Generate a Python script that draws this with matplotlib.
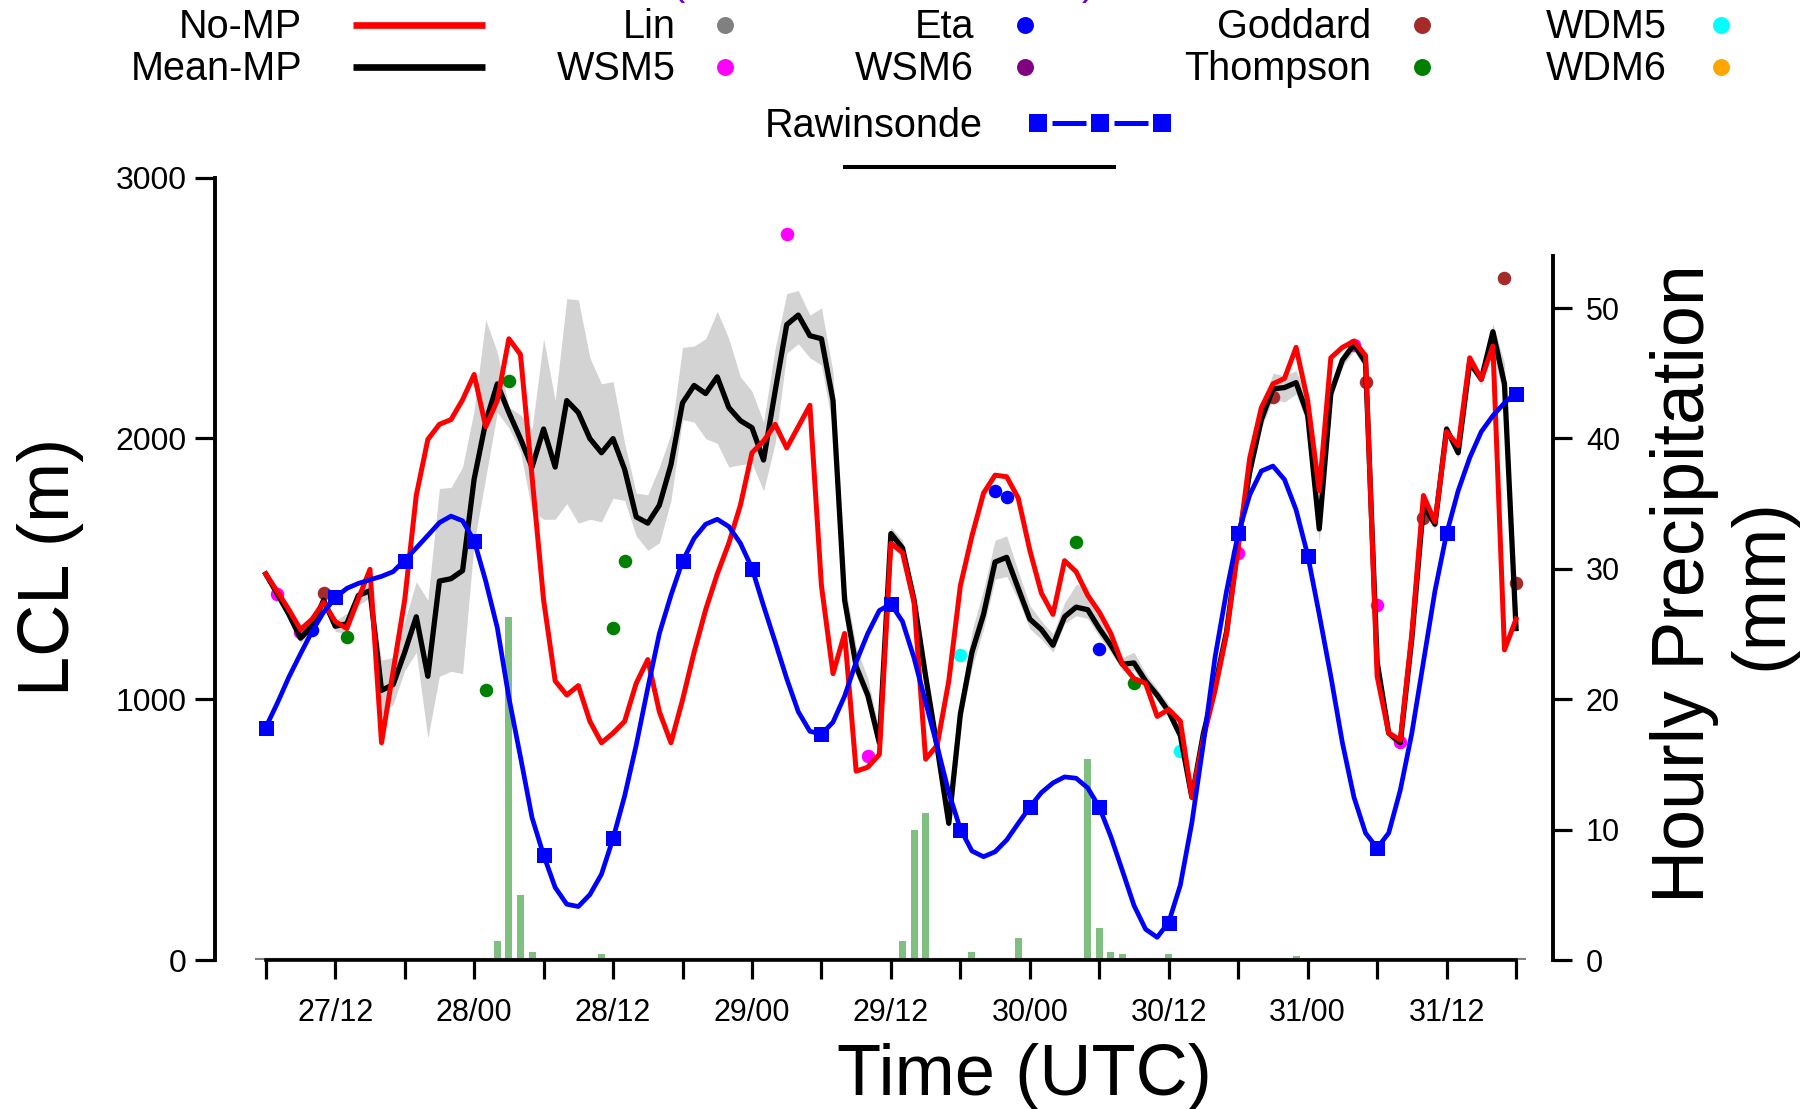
import numpy as np
import matplotlib
matplotlib.use('Agg')
import matplotlib.pyplot as plt
from matplotlib.lines import Line2D

plt.rcParams['font.family'] = ['Liberation Sans', 'DejaVu Sans']

# ---------------- data ----------------
# time axis: hours since 27 Dec 00 UTC (27/06 ... 31/18), hourly
hours = np.arange(6, 115)

no_mp = [1480, 1413, 1343, 1267, 1307, 1371, 1298, 1271, 1385, 1498,
         833, 1107, 1380, 1781, 1996, 2054, 2072, 2148, 2245, 2045,
         2145, 2382, 2322, 1853, 1380, 1070, 1016, 1052, 915, 833,
         870, 915, 1061, 1152, 952, 833, 997, 1180, 1343, 1480,
         1598, 1744, 1945, 1990, 2054, 1963, 2045, 2127, 1435, 1098,
         1252, 724, 739, 788, 1598, 1562, 1371, 770, 824, 1070,
         1435, 1626, 1790, 1859, 1853, 1771, 1571, 1407, 1325, 1531,
         1489, 1398, 1334, 1252, 1134, 1079, 1061, 934, 961, 916,
         624, 852, 1034, 1252, 1580, 1926, 2118, 2209, 2230, 2349,
         2145, 1799, 2309, 2349, 2373, 2318, 1088, 870, 843, 1252,
         1781, 1680, 2026, 1972, 2309, 2227, 2354, 1189, 1307]

mean_mp = [1480, 1404, 1325, 1234, 1280, 1380, 1280, 1289, 1398, 1416,
           1034, 1056, 1180, 1316, 1088, 1453, 1462, 1493, 1844, 2063,
           2209, 2099, 1999, 1890, 2036, 1890, 2145, 2099, 1999, 1945,
           1999, 1881, 1699, 1675, 1744, 1899, 2136, 2203, 2172, 2236,
           2118, 2068, 2041, 1917, 2181, 2436, 2473, 2394, 2382, 2145,
           1380, 1125, 1016, 833, 1635, 1580, 1380, 1088, 815, 524,
           943, 1180, 1325, 1526, 1544, 1425, 1307, 1267, 1207, 1316,
           1353, 1343, 1271, 1207, 1134, 1139, 1070, 1016, 952, 861,
           624, 870, 1050, 1260, 1600, 1872, 2072, 2190, 2195, 2214,
           2090, 1653, 2172, 2300, 2360, 2291, 1143, 870, 833, 1234,
           1744, 1671, 2036, 1945, 2291, 2227, 2409, 2209, 1271]

mp_max = [1500, 1425, 1345, 1255, 1300, 1400, 1300, 1330, 1420, 1440,
          1150, 1160, 1300, 1450, 1380, 1808, 1812, 1890, 2108, 2455,
          2330, 2120, 2090, 2036, 2382, 2145, 2536, 2531, 2309, 2209,
          2218, 1981, 1790, 1784, 1890, 2017, 2349, 2354, 2382, 2487,
          2382, 2236, 2181, 2063, 2345, 2555, 2567, 2473, 2500, 2254,
          1450, 1200, 1080, 880, 1660, 1610, 1420, 1130, 860, 600,
          1000, 1260, 1420, 1610, 1626, 1490, 1360, 1300, 1250, 1370,
          1440, 1430, 1310, 1240, 1160, 1180, 1100, 1040, 980, 880,
          650, 890, 1070, 1280, 1620, 1900, 2110, 2250, 2240, 2260,
          2150, 1720, 2200, 2325, 2385, 2320, 1175, 890, 855, 1255,
          1765, 1690, 2055, 1965, 2310, 2250, 2440, 2290, 1300]

mp_min = [1460, 1385, 1305, 1215, 1260, 1360, 1260, 1250, 1360, 1390,
          940, 980, 1110, 1180, 850, 1088, 1107, 1098, 1600, 1850,
          2100, 2040, 1950, 1720, 1690, 1690, 1750, 1675, 1690, 1680,
          1771, 1762, 1626, 1571, 1599, 1762, 2072, 2063, 1999, 1981,
          1890, 1899, 1904, 1799, 1981, 2327, 2363, 2309, 2281, 2036,
          1320, 1090, 980, 780, 1600, 1550, 1340, 1050, 780, 500,
          900, 1120, 1270, 1460, 1471, 1380, 1270, 1230, 1180, 1290,
          1320, 1310, 1240, 1180, 1110, 1110, 1050, 995, 930, 840,
          600, 850, 1030, 1240, 1580, 1850, 2040, 2150, 2140, 2170,
          2050, 1600, 2145, 2275, 2335, 2265, 1110, 850, 815, 1210,
          1720, 1650, 2015, 1925, 2270, 2205, 2330, 2150, 1230]

sonde_hours = np.arange(6, 115, 6)
sonde_obs = [889, 1391, 1529, 1605, 402, 467, 1529, 1498, 866, 1364,
             498, 586, 586, 142, 1636, 1548, 429, 1636, 2172]
sonde_curve = [892, 985, 1085, 1174, 1260, 1334, 1389, 1425, 1444, 1458,
               1471, 1489, 1533, 1580, 1628, 1677, 1702, 1684, 1608, 1453,
               1274, 1006, 779, 546, 402, 278, 214, 205, 251, 329,
               466, 629, 824, 1043, 1252, 1398, 1529, 1617, 1671, 1690,
               1662, 1598, 1502, 1358, 1220, 1079, 952, 877, 866, 912,
               1012, 1143, 1252, 1340, 1365, 1298, 1158, 988, 819, 642,
               502, 418, 396, 415, 460, 524, 586, 642, 679, 702,
               697, 660, 586, 473, 342, 209, 118, 87, 145, 287,
               527, 833, 1161, 1416, 1635, 1784, 1875, 1894, 1842, 1726,
               1553, 1325, 1088, 833, 624, 487, 429, 487, 651, 870,
               1143, 1416, 1635, 1799, 1926, 2026, 2087, 2136, 2176]

precip_hours = [26, 27, 28, 29, 35, 61, 62, 63, 67, 71, 77, 78, 79, 80, 84, 95]
precip_mm = [1.45, 26.3, 4.95, 0.64, 0.43, 1.45, 10.0, 11.3, 0.64, 1.66,
             15.4, 2.47, 0.64, 0.43, 0.43, 0.3]

# individual microphysics schemes (only where plotted)
lin_h, lin_v = [], []
wsm5_h = [7, 9, 51, 58, 90, 100, 102, 104]
wsm5_v = [1402, 1256, 2782, 784, 1562, 2360, 1362, 837]
eta_h = [10, 69, 70, 78]
eta_v = [1267, 1799, 1775, 1192]
wsm6_h, wsm6_v = [], []
goddard_h = [11, 93, 101, 106, 113, 114]
goddard_v = [1407, 2159, 2218, 1693, 2615, 1447]
thompson_h = [13, 25, 27, 36, 37, 76, 81]
thompson_v = [1238, 1037, 2221, 1274, 1529, 1604, 1061]
wdm5_h = [66, 85]
wdm5_v = [1170, 801]
wdm6_h, wdm6_v = [], []

xticks = np.arange(6, 115, 6)
xticklabels = ['', '27/12', '', '28/00', '', '28/12', '', '29/00', '', '29/12',
               '', '30/00', '', '30/12', '', '31/00', '', '31/12', '']
lcl_ticks = [0, 1000, 2000, 3000]
pr_ticks = [0, 10, 20, 30, 40, 50]

# ---------------- figure ----------------
W, H = 1820, 1109
fig = plt.figure(figsize=(W / 100, H / 100), dpi=100)


def fx(x):
    return x / W


def fy(y):
    return 1 - y / H


ax = fig.add_axes([fx(255), fy(960), (1526 - 255) / W, (960 - 177.6) / H])
ax2 = ax.twinx()
ax.set_zorder(ax2.get_zorder() + 1)
ax.patch.set_visible(False)

ax.set_xlim(5.07, 114.86)
ax.set_ylim(0, 3000)
ax2.set_ylim(0, 60)

# precipitation bars
ax2.bar(precip_hours, precip_mm, width=0.6, color='green', alpha=0.5, lw=0)

# ensemble spread
ax.fill_between(hours, mp_min, mp_max, color='lightgray', lw=0, zorder=1)

scheme_sets = [
    (lin_h, lin_v, 'gray'), (wsm5_h, wsm5_v, 'magenta'), (eta_h, eta_v, 'blue'),
    (wsm6_h, wsm6_v, 'purple'), (goddard_h, goddard_v, 'brown'),
    (thompson_h, thompson_v, 'green'), (wdm5_h, wdm5_v, 'cyan'),
    (wdm6_h, wdm6_v, 'orange')]
for hh, vv, c in scheme_sets:
    if hh:
        ax.scatter(hh, vv, s=95, color=c, lw=0, zorder=2)

ax.plot(hours, mean_mp, color='black', lw=3.8, zorder=3)
ax.plot(hours, no_mp, color='red', lw=3.6, zorder=4)
ax.plot(hours, sonde_curve, color='blue', lw=3.4, zorder=5)
ax.plot(sonde_hours, sonde_obs, ls='none', marker='s', ms=10.8, mew=0,
        color='blue', zorder=6)

ax.axhline(0, color='gray', lw=3, zorder=1.5)

# spines / ticks
for s in ['top', 'right']:
    ax.spines[s].set_visible(False)
ax.spines['left'].set_position(('outward', 28.8))
ax.spines['left'].set_bounds(0, 3000)
ax.spines['bottom'].set_bounds(6, 114)
ax.spines['left'].set_linewidth(2.8)
ax.spines['bottom'].set_linewidth(2.6)

for s in ['top', 'left', 'bottom']:
    ax2.spines[s].set_visible(False)
ax2.spines['right'].set_position(('outward', 19.4))
ax2.spines['right'].set_bounds(0, 54)
ax2.spines['right'].set_linewidth(2.8)

ax.set_xticks(xticks)
ax.set_xticklabels(xticklabels)
ax.set_yticks(lcl_ticks)
ax.set_yticklabels([str(v) for v in lcl_ticks])
ax2.set_yticks(pr_ticks)
ax2.set_yticklabels([str(v) for v in pr_ticks])

ax.tick_params(axis='x', direction='out', length=13.7, width=2.3, pad=14,
               labelsize=22)
ax.tick_params(axis='y', direction='out', length=14.4, width=2.3, pad=6,
               labelsize=23)
ax2.tick_params(axis='y', direction='out', length=13.7, width=2.3, pad=10,
                labelsize=22)

# axis labels
fig.text(fx(50), fy(567), 'LCL (m)', rotation=90, ha='center', va='center',
         fontsize=52)
fig.text(fx(1024), fy(1095), 'Time (UTC)', ha='center', va='baseline',
         fontsize=52)
fig.text(fx(1723), fy(584), 'Hourly Precipitation\n(mm)', rotation=90,
         ha='center', va='center', multialignment='center', fontsize=53,
         linespacing=1.15)

# ---------------- manual legend ----------------
LFS = 28.5
rows_base = [38, 80]
rows_mid = [25, 67]
fig.text(fx(302), fy(rows_base[0]), 'No-MP', ha='right', va='baseline', fontsize=LFS)
fig.text(fx(302), fy(rows_base[1]), 'Mean-MP', ha='right', va='baseline', fontsize=LFS)
fig.add_artist(Line2D([fx(353), fx(485)], [fy(rows_mid[0])] * 2, color='red',
                      lw=4.8, solid_capstyle='butt'))
fig.add_artist(Line2D([fx(353), fx(485)], [fy(rows_mid[1])] * 2, color='black',
                      lw=4.8, solid_capstyle='butt'))

legend_cols = [
    (676, 725, [('Lin', 'gray'), ('WSM5', 'magenta')]),
    (974, 1025, [('Eta', 'blue'), ('WSM6', 'purple')]),
    (1371, 1422, [('Goddard', 'brown'), ('Thompson', 'green')]),
    (1667, 1721, [('WDM5', 'cyan'), ('WDM6', 'orange')]),
]
for tx, dx, items in legend_cols:
    for r, (lab, c) in enumerate(items):
        fig.text(fx(tx), fy(rows_base[r]), lab, ha='right', va='baseline',
                 fontsize=LFS)
        fig.add_artist(Line2D([fx(dx)], [fy(rows_mid[r])], ls='none', marker='o',
                              ms=12.2, mew=0, color=c))

fig.text(fx(983), fy(137), 'Rawinsonde', ha='right', va='baseline', fontsize=LFS)
for x0, x1 in [(1052, 1086), (1114, 1148)]:
    fig.add_artist(Line2D([fx(x0), fx(x1)], [fy(123)] * 2, color='blue', lw=3.6,
                          solid_capstyle='butt'))
fig.add_artist(Line2D([fx(1038), fx(1100), fx(1162)], [fy(123)] * 3, ls='none',
                      marker='s', ms=12.3, mew=0, color='blue'))

fig.add_artist(Line2D([fx(843), fx(1116)], [fy(167)] * 2, color='black', lw=2.9,
                      solid_capstyle='butt'))

# clipped title fragments at the very top (the reference shows only their bottoms)
fig.text(fx(672), 1 + 5 / H, '(', color='#6a00d0', fontsize=LFS, va='baseline')
fig.text(fx(1082), 1 + 5 / H, ')', color='#6a00d0', fontsize=LFS, va='baseline')

fig.savefig('out.png', dpi=100)
